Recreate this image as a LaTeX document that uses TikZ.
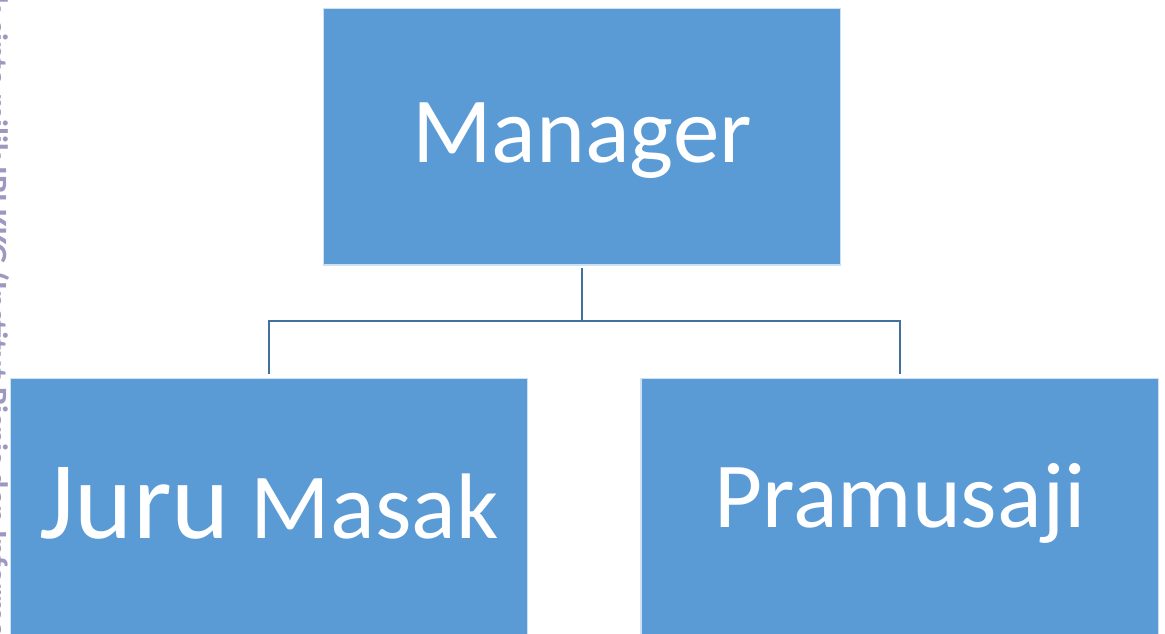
\documentclass[tikz,border=0pt]{standalone}
\usepackage{fontspec}
\setmainfont{Carlito}
\usetikzlibrary{positioning}

\definecolor{boxblue}{RGB}{91,155,213}
\definecolor{linkblue}{RGB}{65,113,156}
\definecolor{markgray}{RGB}{156,152,192}

\begin{document}
\begin{tikzpicture}[x=0.02cm,y=-0.02cm,
    jabatan/.style={rectangle,fill=boxblue,draw=white!70!boxblue,line width=0.6pt,
      minimum width=10.36cm,minimum height=5.14cm,text=white,text depth=0pt,
      font=\fontsize{53}{60}\selectfont,inner sep=0pt},
    link/.style={draw=linkblue,line width=1.4pt,shorten <=0.04cm,shorten >=0.08cm}]
  \useasboundingbox (0,0) rectangle (1165,633);
  \clip (0,0) rectangle (1165,633);

  % vertical mark on the left edge
  \node[rotate=-90,anchor=base west,text=markgray,inner sep=0pt,
    font=\bfseries\fontsize{18.5}{22}\selectfont] (tanda) at (-14,-40)
    {Hak cipta milik IBI KKG (Institut Bisnis dan Informatika Kwik Kian Gie)};

  \node[jabatan,text height=1.02cm] (mgr) at (582,136.5) {Manager};
  \node[jabatan,text height=1.26cm] (juru) at (269,506.5)
    {{\fontsize{63}{70}\selectfont Juru} Masak};
  \node[jabatan,text height=0.82cm] (pramusaji) [right=2.24cm of juru] {Pramusaji};

  \coordinate (cabang) at (582,321);
  \draw[link,shorten >=0pt] (mgr.south) -- (cabang);
  \draw[link,shorten <=0pt] (cabang) -| (juru.north);
  \draw[link,shorten <=0pt] (cabang) -| (pramusaji.north);
\end{tikzpicture}
\end{document}
